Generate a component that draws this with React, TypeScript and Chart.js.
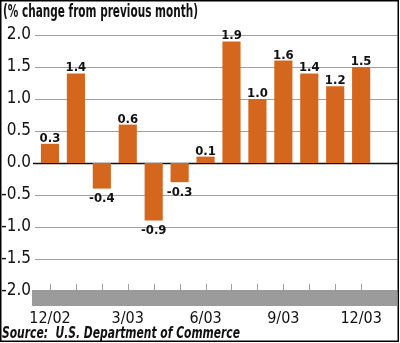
import React, { useEffect, useRef } from "react";
import { Chart, registerables } from "chart.js";

Chart.register(...registerables);

const categories = ["12/02", "1/03", "2/03", "3/03", "4/03", "5/03", "6/03", "7/03", "8/03", "9/03", "10/03", "11/03", "12/03"];
const values = [0.3, 1.4, -0.4, 0.6, -0.9, -0.3, 0.1, 1.9, 1.0, 1.6, 1.4, 1.2, 1.5];
const shownTickLabels = ["12/02", "3/03", "6/03", "9/03", "12/03"];
const yTicks = [2.0, 1.5, 1.0, 0.5, 0.0, -0.5, -1.0, -1.5, -2.0];
const titleText = "(% change from previous month)";
const sourceText = "Source:  U.S. Department of Commerce";

const NARROW = '"Liberation Sans Narrow", "DejaVu Sans Condensed", "Liberation Sans", sans-serif';
const BAR_COLOR = "#d5661d";

function fitText(ctx: CanvasRenderingContext2D, text: string, x: number, y: number, width: number) {
  const w = ctx.measureText(text).width;
  const s = width / w;
  ctx.save();
  ctx.translate(x, y);
  ctx.scale(s, 1);
  ctx.fillText(text, 0, 0);
  ctx.restore();
}

const decorPlugin = {
  id: "decor",
  beforeDatasetsDraw(chart: any) {
    const { ctx } = chart;
    const y = chart.scales.y;
    ctx.save();
    yTicks.forEach((t) => {
      const py = Math.round(y.getPixelForValue(t)) + 0.5;
      ctx.beginPath();
      ctx.strokeStyle = t === 0 ? "#111" : "#a0a0a0";
      ctx.lineWidth = t === 0 ? 1.5 : 1;
      ctx.moveTo(t === 0 ? 33 : 35, py);
      ctx.lineTo(398, py);
      ctx.stroke();
    });
    // gray band below axis
    const bottom = y.getPixelForValue(-2) - 1;
    ctx.fillStyle = "#9b9b9b";
    ctx.fillRect(32, bottom, 365, 16);
    // small tick marks above band
    const x = chart.scales.x;
    ctx.strokeStyle = "#a0a0a0";
    ctx.lineWidth = 1;
    categories.forEach((_, i) => {
      const px = Math.round(x.getPixelForValue(i)) + 0.5;
      ctx.beginPath();
      ctx.moveTo(px, bottom - 6);
      ctx.lineTo(px, bottom);
      ctx.stroke();
    });
    ctx.restore();
  },
  afterDraw(chart: any) {
    const { ctx } = chart;
    const x = chart.scales.x;
    const y = chart.scales.y;
    ctx.save();
    // value labels
    ctx.fillStyle = "#111";
    ctx.font = `bold 13px ${NARROW}`;
    ctx.textAlign = "center";
    values.forEach((v, i) => {
      const px = x.getPixelForValue(i);
      const py = y.getPixelForValue(v);
      const label = v.toFixed(1);
      if (v >= 0) {
        ctx.textBaseline = "alphabetic";
        ctx.fillText(label, px, py - 2);
      } else {
        ctx.textBaseline = "top";
        ctx.fillText(label, px, py + 4);
      }
    });
    // title
    ctx.textAlign = "left";
    ctx.textBaseline = "alphabetic";
    ctx.font = `bold 18px ${NARROW}`;
    fitText(ctx, titleText, 3, 17, 195);
    // source
    ctx.font = `italic bold 15px ${NARROW}`;
    fitText(ctx, sourceText, 2, 338, 238);
    // border
    ctx.strokeStyle = "#000";
    ctx.lineWidth = 1.5;
    ctx.strokeRect(0.75, 0.75, 397.5, 340.5);
    ctx.restore();
  },
};

export default function App() {
  const ref = useRef<HTMLCanvasElement>(null);
  useEffect(() => {
    document.body.style.margin = "0";
    const canvas = ref.current!;
    const chart = new Chart(canvas, {
      type: "bar",
      data: {
        labels: categories,
        datasets: [
          {
            data: values,
            backgroundColor: BAR_COLOR,
            barPercentage: 0.7,
            categoryPercentage: 1,
          },
        ],
      },
      options: {
        animation: false,
        responsive: false,
        maintainAspectRatio: false,
        layout: { padding: { top: 35, right: 3, bottom: 18, left: 0 } },
        plugins: { legend: { display: false }, tooltip: { enabled: false }, title: { display: false } },
        scales: {
          x: {
            grid: { display: false, drawTicks: false },
            border: { display: false },
            ticks: {
              autoSkip: false,
              maxRotation: 0,
              padding: 18,
              color: "#111",
              font: { family: NARROW, size: 16 },
              callback: (_v: any, i: number) => (shownTickLabels.includes(categories[i]) ? categories[i] : ""),
            },
            afterFit: (s: any) => {
              s.height = 34;
            },
          },
          y: {
            min: -2,
            max: 2,
            grid: { display: false, drawTicks: false },
            border: { display: false },
            ticks: {
              stepSize: 0.5,
              padding: 6,
              color: "#111",
              font: { family: NARROW, size: 17 },
              callback: (v: any) => Number(v).toFixed(1),
            },
            afterFit: (s: any) => {
              s.width = 37;
            },
          },
        },
      },
      plugins: [decorPlugin],
    });
    return () => chart.destroy();
  }, []);
  return <canvas ref={ref} width={400} height={343} style={{ display: "block" }} />;
}
